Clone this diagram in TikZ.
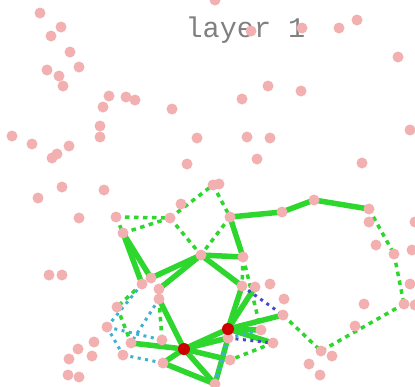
\documentclass[tikz,border=0pt]{standalone}
\usepackage{fontspec}
\newfontfamily\monofont{Liberation Mono}
\definecolor{pinkc}{RGB}{242,176,176}
\definecolor{redc}{RGB}{204,0,0}
\definecolor{greenc}{RGB}{45,215,45}
\definecolor{cyanc}{RGB}{60,178,210}
\definecolor{bluec}{RGB}{72,72,205}
\definecolor{titlec}{RGB}{128,128,128}
\pgfdeclarelayer{bg}
\pgfdeclarelayer{edges}
\pgfsetlayers{bg,edges,main}
\begin{document}
\begin{tikzpicture}[x=1pt,y=-1pt,
  pinkdot/.style={circle,fill=pinkc,inner sep=0pt,minimum size=11pt},
  reddot/.style={circle,fill=redc,inner sep=0pt,minimum size=12pt},
  solidedge/.style={draw=greenc,line width=5.5pt},
  dotedge/.style={draw=greenc,line width=3.5pt,dash pattern=on 4.5pt off 4.5pt},
  cyanedge/.style={draw=cyanc,line width=3pt,dash pattern=on 3pt off 4.5pt},
  blueedge/.style={draw=bluec,line width=3pt,dash pattern=on 3pt off 4.5pt}]
\path[use as bounding box] (0,0) rectangle (415,386);
\clip (0,0) rectangle (415,386);
\begin{pgfonlayer}{bg}
\fill[white] (0,0) rectangle (415,386);
\end{pgfonlayer}
\node[text=titlec,font=\monofont\fontsize{28.5}{28.5}\selectfont,anchor=base,inner sep=0pt] (title) at (245.5,37) {layer 1};
% isolated nodes
\foreach \x/\y [count=\i] in {40/13, 61/27, 51/36, 70/52, 47/70, 79/67, 59/76, 63/86, 215/0, 251/31, 302/28, 339/28, 357/20, 398/57, 109/96, 126/97, 135/100, 103/107, 172/109, 242/99, 268/86, 301/91, 100/126, 100/137, 12/136, 32/144, 69/146, 57/154, 52/158, 197/138, 247/137, 270/138, 410/130, 187/164, 257/159, 362/163, 62/187, 104/190, 38/198, 79/218, 415/222, 412/250, 49/275, 62/275, 410/284, 415/305, 94/342, 78/349, 69/359, 92/356, 68/375, 79/377, 309/364, 320/375}
  \node[pinkdot] (q\i) at (\x,\y) {};
% graph nodes
\foreach \n/\x/\y in {A/116/217, B/170/218, C/181/204, D/213/185, D2/219/184, E/230/217, F/282/212, G/314/200, H/369/209, H2/369/222, I/376/245, J/394/254, K/404/304, L/355/326, M/364/304, N/321/351, N2/332/356, O/283/315, P/284/299, Q/270/284, R/255/287, S/242/286, T/243/257, U/201/255, V/123/233, W/151/278, X/142/284, Y/159/289, Z/159/299, s1/228/338, s2/261/330, s3/273/343, s4/230/360, bot/215/384, c1/162/340, c2/131/343, c3/163/363, c4/123/355, c5/107/327, c6/117/307}
  \node[pinkdot] (\n) at (\x,\y) {};
\node[reddot] (r1) at (184,349) {};
\node[reddot] (r2) at (228,329) {};
\begin{pgfonlayer}{edges}
% solid
\foreach \a/\b in {E/F, F/G, G/H, E/T, U/T, V/X, V/W, W/U, Y/U, U/S, Z/r1, r1/c2, r1/c3, r1/bot, c3/bot, r1/r2, r1/s1, r1/s4, r2/S, r2/R, r2/O, r2/s2, r2/s3, s1/bot}
  \draw[solidedge] (\a.center) -- (\b.center);
% green dotted
\foreach \a/\b in {A/B, V/B, A/V, B/D, D/E, B/U, E/U, T/S, T/s2, H/J, J/K, K/N, O/N, s3/s4, X/c6, c6/c2, Z/c1}
  \draw[dotedge] (\a.center) -- (\b.center);
% cyan dotted
\foreach \a/\b in {c5/c4, c4/c3, c5/c1, Z/c2, s1/bot, c5/X, s1/s2}
  \draw[cyanedge] (\a.center) -- (\b.center);
% blue dotted
\foreach \a/\b in {S/O, s1/s3}
  \draw[blueedge] (\a.center) -- (\b.center);
\end{pgfonlayer}
\end{tikzpicture}
\end{document}
